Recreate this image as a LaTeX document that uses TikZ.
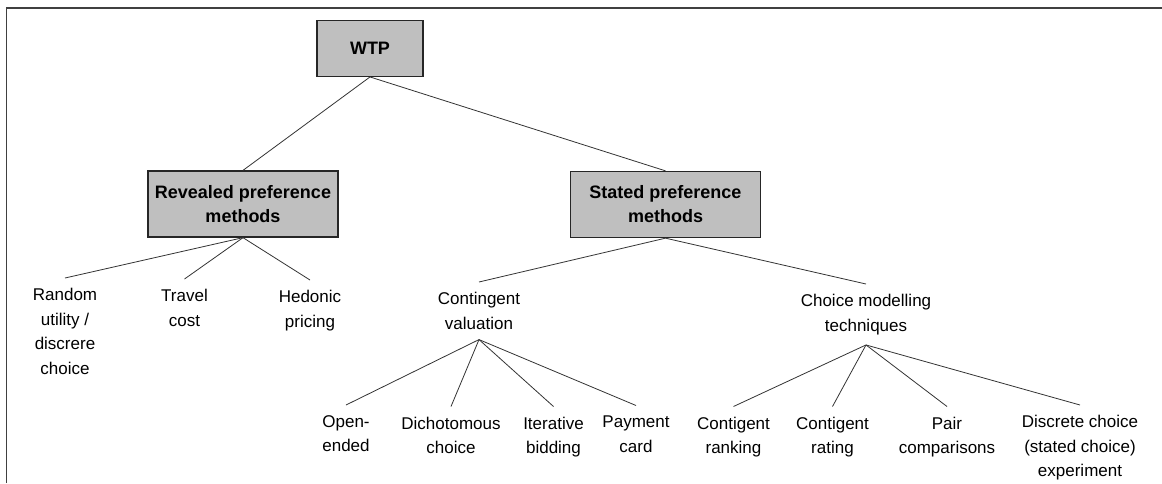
\documentclass[tikz,border=0pt]{standalone}
\usepackage{fontspec}
\setmainfont{Liberation Sans}
\begin{document}
\begin{tikzpicture}[x=1pt,y=-1pt,
  box/.style={draw=black!85, line width=1.3pt, fill=black!25, minimum width=190pt, minimum height=66pt, align=center, inner sep=2pt, font=\fontsize{18}{24}\selectfont\bfseries},
  topbox/.style={box, minimum width=106pt, minimum height=56pt},
  leaf/.style={anchor=north, align=center, inner xsep=2pt, inner ysep=10pt, font=\fontsize{17}{24.7}\selectfont},
  conn/.style={draw=black!80, line width=0.8pt},
  frame/.style={draw=black!75, line width=1.6pt}]
\useasboundingbox (0,0) rectangle (1162,483);
\draw[frame] (6.5,483) -- (6.5,8) -- (1162,8);

\node[topbox] (wtp) at (370,48.3) {WTP};
\node[box] (rp) at (243,204) {Revealed preference\\methods};
\node[box] (sp) at (665.5,204.5) {Stated preference\\methods};

\node[leaf] (rand) at (65,278) {Random\\utility /\\discrere\\choice};
\node[leaf] (travel) at (184.5,279) {Travel\\cost};
\node[leaf] (hed) at (310,280) {Hedonic\\pricing};
\node[leaf] (cv) at (479,282) {Contingent\\valuation};
\node[leaf] (cm) at (866,284) {Choice modelling\\techniques};

\node[leaf] (open) at (346,405) {Open-\\ended};
\node[leaf] (dich) at (451,406.5) {Dichotomous\\choice};
\node[leaf] (iter) at (553.5,406.5) {Iterative\\bidding};
\node[leaf] (pay) at (636,405.5) {Payment\\card};
\node[leaf] (rank) at (733.5,406.5) {Contigent\\ranking};
\node[leaf] (rate) at (832.5,406.5) {Contigent\\rating};
\node[leaf] (pair) at (947,406.5) {Pair\\comparisons};
\node[leaf] (disc) at (1080,405) {Discrete choice\\(stated choice)\\experiment};

\draw[conn] (wtp.south) -- (rp.north);
\draw[conn] (wtp.south) -- (sp.north);
\draw[conn] (rp.south) -- (rand.north);
\draw[conn] (rp.south) -- (travel.north);
\draw[conn] (rp.south) -- (hed.north);
\draw[conn] (sp.south) -- (cv.north);
\draw[conn] (sp.south) -- (cm.north);
\draw[conn] (cv.south) -- (open.north);
\draw[conn] (cv.south) -- (dich.north);
\draw[conn] (cv.south) -- (iter.north);
\draw[conn] (cv.south) -- (pay.north);
\draw[conn] (cm.south) -- (rank.north);
\draw[conn] (cm.south) -- (rate.north);
\draw[conn] (cm.south) -- (pair.north);
\draw[conn] (cm.south) -- (disc.north);
\end{tikzpicture}
\end{document}
